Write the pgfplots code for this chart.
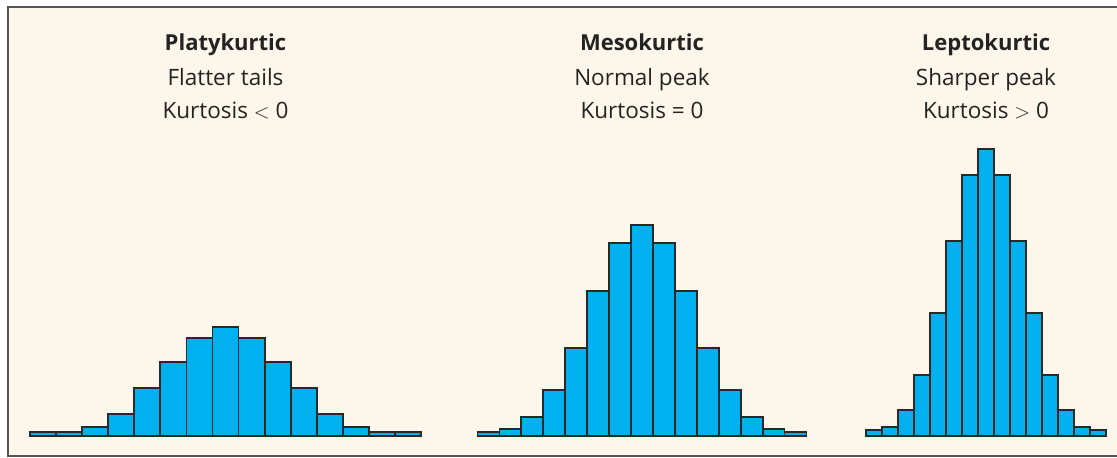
\documentclass[border=0pt]{standalone}
\usepackage{pgfplots}
\pgfplotsset{compat=1.18}
\usepackage{fontspec}
\setmainfont{Open Sans}
\definecolor{cream}{RGB}{253,246,234}
\definecolor{barblue}{RGB}{0,176,239}
\definecolor{edge}{RGB}{40,40,40}
\definecolor{frame}{RGB}{85,85,85}
\definecolor{txt}{RGB}{35,35,35}
\pgfplotstableread{
x h
1 4
2 4
3 9
4 22
5 48
6 74
7 98
8 109
9 98
10 74
11 48
12 22
13 9
14 4
15 4
}\platy
\pgfplotstableread{
x h
1 4
2 7
3 19
4 46
5 88
6 145
7 193
8 211
9 193
10 145
11 88
12 46
13 19
14 7
15 4
}\meso
\pgfplotstableread{
x h
1 6
2 9
3 26
4 61
5 123
6 195
7 261
8 287
9 261
10 195
11 123
12 61
13 26
14 9
15 6
}\lepto
\pgfplotsset{hist/.style={hide axis, scale only axis, clip=false,
  xmin=0.5, xmax=15.5, ymin=0, ymax=300, height=300pt, anchor=south west}}
\begin{document}
\begin{tikzpicture}[x=1pt,y=1pt]
\useasboundingbox (0,0) rectangle (1117,458);
\fill[white] (0,0) rectangle (1117,458);
\begin{scope}
\clip (0,0) rectangle (1117,458);
\filldraw[fill=cream, draw=frame, line width=2pt] (8,1.5) rectangle (1125,451);
\end{scope}
\begin{axis}[hist, width=391pt, at={(30pt,22pt)}]
\addplot[ybar, bar width=1, fill=barblue, draw=edge, line width=1.8pt] table[x=x,y=h] {\platy};
\end{axis}
\begin{axis}[hist, width=329pt, at={(477.5pt,22pt)}]
\addplot[ybar, bar width=1, fill=barblue, draw=edge, line width=1.8pt] table[x=x,y=h] {\meso};
\end{axis}
\begin{axis}[hist, width=240pt, at={(866pt,22pt)}]
\addplot[ybar, bar width=1, fill=barblue, draw=edge, line width=1.8pt] table[x=x,y=h] {\lepto};
\end{axis}
\begin{scope}[every node/.style={anchor=base, text=txt, font=\fontsize{22.5}{26}\selectfont, inner sep=0pt}]
\node[font=\fontsize{22}{26}\selectfont\bfseries] at (225.5,407.5) {Platykurtic};
\node at (225.5,372.5) {Flatter tails};
\node at (225.5,339) {Kurtosis $<$ 0};
\node[font=\fontsize{22}{26}\selectfont\bfseries] at (642,407.5) {Mesokurtic};
\node at (642,372.5) {Normal peak};
\node at (642,339) {Kurtosis = 0};
\node[font=\fontsize{22}{26}\selectfont\bfseries] at (986,407.5) {Leptokurtic};
\node at (986,372.5) {Sharper peak};
\node at (986,339) {Kurtosis $>$ 0};
\end{scope}
\end{tikzpicture}
\end{document}
